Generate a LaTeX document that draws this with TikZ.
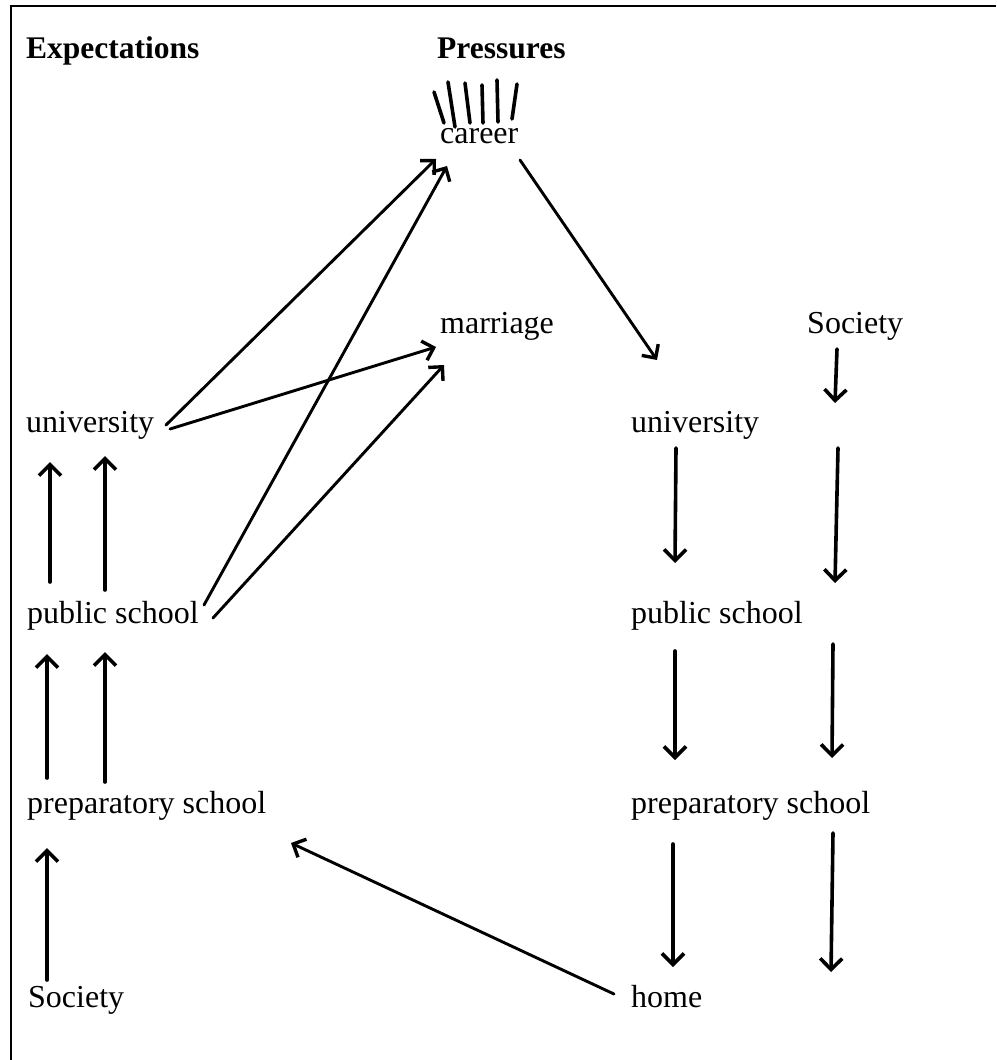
\documentclass[tikz,border=0pt]{standalone}
\usepackage{fontspec}
\setmainfont{Liberation Serif}
\usetikzlibrary{arrows.meta}
\tikzset{
  lbl/.style={anchor=base west, inner sep=0pt, font=\fontsize{32}{36}\selectfont},
  head/.style={anchor=base west, inner sep=0pt, font=\fontsize{31.5}{36}\selectfont\bfseries},
  varr/.style={line width=3.6pt, line cap=round, -{Straight Barb[length=11pt,width=22pt,line width=3.6pt]}},
  darr/.style={line width=2.9pt, line cap=round, -{Straight Barb[length=10pt,width=20pt,line width=3.4pt]}},
  ray/.style={line width=3.6pt, line cap=round},
  frame/.style={line width=2.4pt}
}
\begin{document}
\begin{tikzpicture}[x=1pt,y=-1pt]
\useasboundingbox (0,0) rectangle (996,1060);
% frame
\draw[frame] (11,1060) -- (11,6) -- (996,6);
% headings
\node[head] (hexp) at (26,58) {Expectations};
\node[head] (hpre) at (437,58) {Pressures};
% nodes
\node[lbl] (career) at (440,143) {career};
\node[lbl] (marriage) at (440,333) {marriage};
\node[lbl] (socR) at (807,333) {Society};
\node[lbl] (uniL) at (26,432) {university};
\node[lbl] (uniR) at (631,432) {university};
\node[lbl] (pubL) at (27,623) {public school};
\node[lbl] (pubR) at (631,623) {public school};
\node[lbl] (prepL) at (27,813) {preparatory school};
\node[lbl] (prepR) at (631,813) {preparatory school};
\node[lbl] (socL) at (28,1007) {Society};
\node[lbl] (home) at (631,1007) {home};
% rays above career
\draw[ray] (434,92) -- (444,123);
\draw[ray] (448,82) -- (455,127);
\draw[ray] (465,83) -- (470,123);
\draw[ray] (482,85) -- (483,123);
\draw[ray] (497,80) -- (498,122);
\draw[ray] (517,84) -- (512,119);
% connector coordinates
\coordinate (a1s) at (47,980);  \coordinate (a1e) at (47,848);
\coordinate (a2s) at (47,778);  \coordinate (a2e) at (47,654);
\coordinate (a3s) at (105,782); \coordinate (a3e) at (105,652);
\coordinate (a4s) at (50,582);  \coordinate (a4e) at (50,462);
\coordinate (a5s) at (105,590); \coordinate (a5e) at (105,456);
\coordinate (d1s) at (166,425); \coordinate (d1e) at (436,159);
\coordinate (d2s) at (170,429); \coordinate (d2e) at (436,347);
\coordinate (d3s) at (204,605); \coordinate (d3e) at (447,166);
\coordinate (d4s) at (213,618); \coordinate (d4e) at (444,365);
\coordinate (d5s) at (520,160); \coordinate (d5e) at (657,360);
\coordinate (d6s) at (614,994); \coordinate (d6e) at (291,843);
\coordinate (b1s) at (837,349); \coordinate (b1e) at (835,403);
\coordinate (b2s) at (676,448); \coordinate (b2e) at (675,563);
\coordinate (b3s) at (838,448); \coordinate (b3e) at (835,583);
\coordinate (b4s) at (675,651); \coordinate (b4e) at (675,760);
\coordinate (b5s) at (833,644); \coordinate (b5e) at (832,758);
\coordinate (b6s) at (673,844); \coordinate (b6e) at (673,967);
\coordinate (b7s) at (833,833); \coordinate (b7e) at (831,972);
% left column arrows
\draw[varr] (a1s) -- (a1e);
\draw[varr] (a2s) -- (a2e);
\draw[varr] (a3s) -- (a3e);
\draw[varr] (a4s) -- (a4e);
\draw[varr] (a5s) -- (a5e);
% diagonal arrows
\draw[darr] (d1s) -- (d1e);
\draw[darr] (d2s) -- (d2e);
\draw[darr] (d3s) -- (d3e);
\draw[darr] (d4s) -- (d4e);
\draw[darr] (d5s) -- (d5e);
\draw[darr] (d6s) -- (d6e);
% right column arrows
\draw[varr] (b1s) -- (b1e);
\draw[varr] (b2s) -- (b2e);
\draw[varr] (b3s) -- (b3e);
\draw[varr] (b4s) -- (b4e);
\draw[varr] (b5s) -- (b5e);
\draw[varr] (b6s) -- (b6e);
\draw[varr] (b7s) -- (b7e);
\end{tikzpicture}
\end{document}
